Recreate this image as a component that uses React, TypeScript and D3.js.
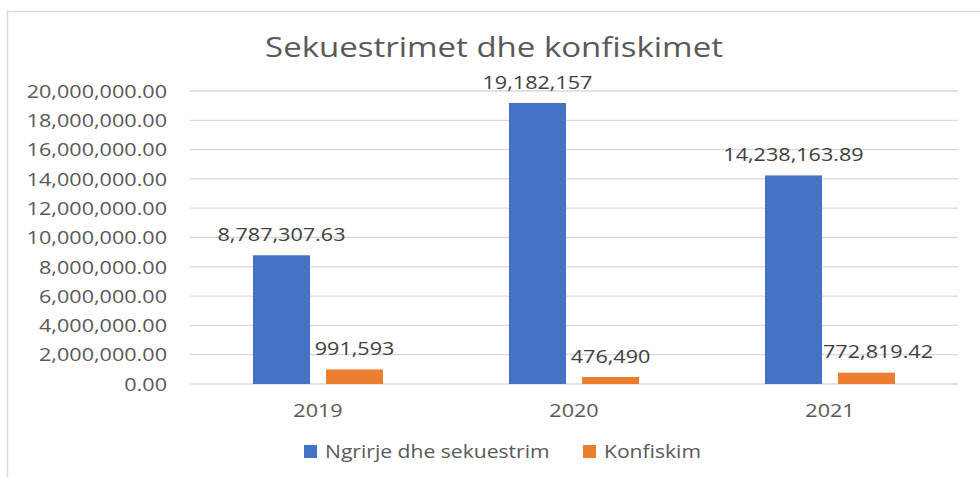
import * as d3 from "d3";
import React from "react";

// chart data
const years = ["2019", "2020", "2021"];
const seriesNames = ["Ngrirje dhe sekuestrim", "Konfiskim"];
const ngrirje = [8787307.63, 19182157, 14238163.89];
const konfiskim = [991593, 476490, 772819.42];
const valueLabels = [
  ["8,787,307.63", "19,182,157", "14,238,163.89"],
  ["991,593", "476,490", "772,819.42"],
];
const yTicks = [0, 2e6, 4e6, 6e6, 8e6, 10e6, 12e6, 14e6, 16e6, 18e6, 20e6];

const W = 980;
const H = 477;
const colors = ["#4472C4", "#ED7D31"];
const SX = 1.2; // the picture is a bit stretched sideways
const font = "'Open Sans', sans-serif";

function Txt({ x, y, anchor = "middle", size = 18, fill = "#595959", children }: any) {
  return (
    <text
      transform={`translate(${x},${y}) scale(${SX},1)`}
      textAnchor={anchor}
      dominantBaseline="central"
      fontSize={size}
      fontFamily={font}
      fill={fill}
    >
      {children}
    </text>
  );
}

// rough width of a number label, Open Sans digits
const labelWidth = (s: string, size = 18) =>
  d3.sum(s.split(""), (c) => (/\d/.test(c) ? 0.572 : 0.26)) * size * SX;

export default function App() {
  const left = 190;
  const right = 958;
  const top = 91;
  const bottom = 384;

  const x0 = d3.scaleBand().domain(years).range([left, right]).paddingInner(0.492).paddingOuter(0.246);
  const x1 = d3.scaleBand().domain(seriesNames).range([0, x0.bandwidth()]).paddingInner(0.219);
  const y = d3.scaleLinear().domain([0, 20e6]).range([bottom, top]);
  const fmt = d3.format(",.2f");

  const series = [ngrirje, konfiskim];

  return (
    <svg width={W} height={H} style={{ position: "absolute", left: 0, top: 0, background: "#fff" }}>
      {/* chart frame */}
      <path d={`M7.5,${H} V11.5 H${W}`} fill="none" stroke="#d9d9d9" strokeWidth={1.5} />

      <Txt x={494} y={47} size={27.5}>Sekuestrimet dhe konfiskimet</Txt>

      {/* grid + y axis */}
      {yTicks.map((t) => (
        <g key={t}>
          <line x1={left} x2={right} y1={y(t)} y2={y(t)} stroke="#d9d9d9" strokeWidth={1.3} />
          <Txt x={167} y={y(t)} anchor="end">{fmt(t)}</Txt>
        </g>
      ))}

      {/* bars */}
      {series.map((vals, si) =>
        years.map((yr, i) => {
          const bx = x0(yr)! + x1(seriesNames[si])!;
          const bw = x1.bandwidth();
          const lab = valueLabels[si][i];
          let lx = bx + bw / 2;
          // keep the label clear of the taller bar to its left
          if (si > 0) {
            const prevRight = x0(yr)! + x1(seriesNames[si - 1])! + bw;
            const prevTop = y(series[si - 1][i]);
            const w = labelWidth(lab);
            if (prevTop < y(vals[i]) - 30 && lx - w / 2 < prevRight + 1) lx = prevRight + 1 + w / 2;
          }
          return (
            <g key={yr + si}>
              <rect x={bx} y={y(vals[i])} width={bw} height={bottom - y(vals[i])} fill={colors[si]} />
              <Txt x={lx} y={y(vals[i]) - 21} fill="#404040">
                {lab}
              </Txt>
            </g>
          );
        })
      )}

      {/* x axis labels */}
      {years.map((yr) => (
        <Txt key={yr} x={x0(yr)! + x0.bandwidth() / 2} y={410}>{yr}</Txt>
      ))}

      {/* legend */}
      {[
        { name: seriesNames[0], x: 304 },
        { name: seriesNames[1], x: 583 },
      ].map((d, i) => (
        <g key={d.name}>
          <rect x={d.x} y={445} width={13} height={13} fill={colors[i]} />
          <Txt x={d.x + 21} y={451} anchor="start" size={17.6}>{d.name}</Txt>
        </g>
      ))}
    </svg>
  );
}
